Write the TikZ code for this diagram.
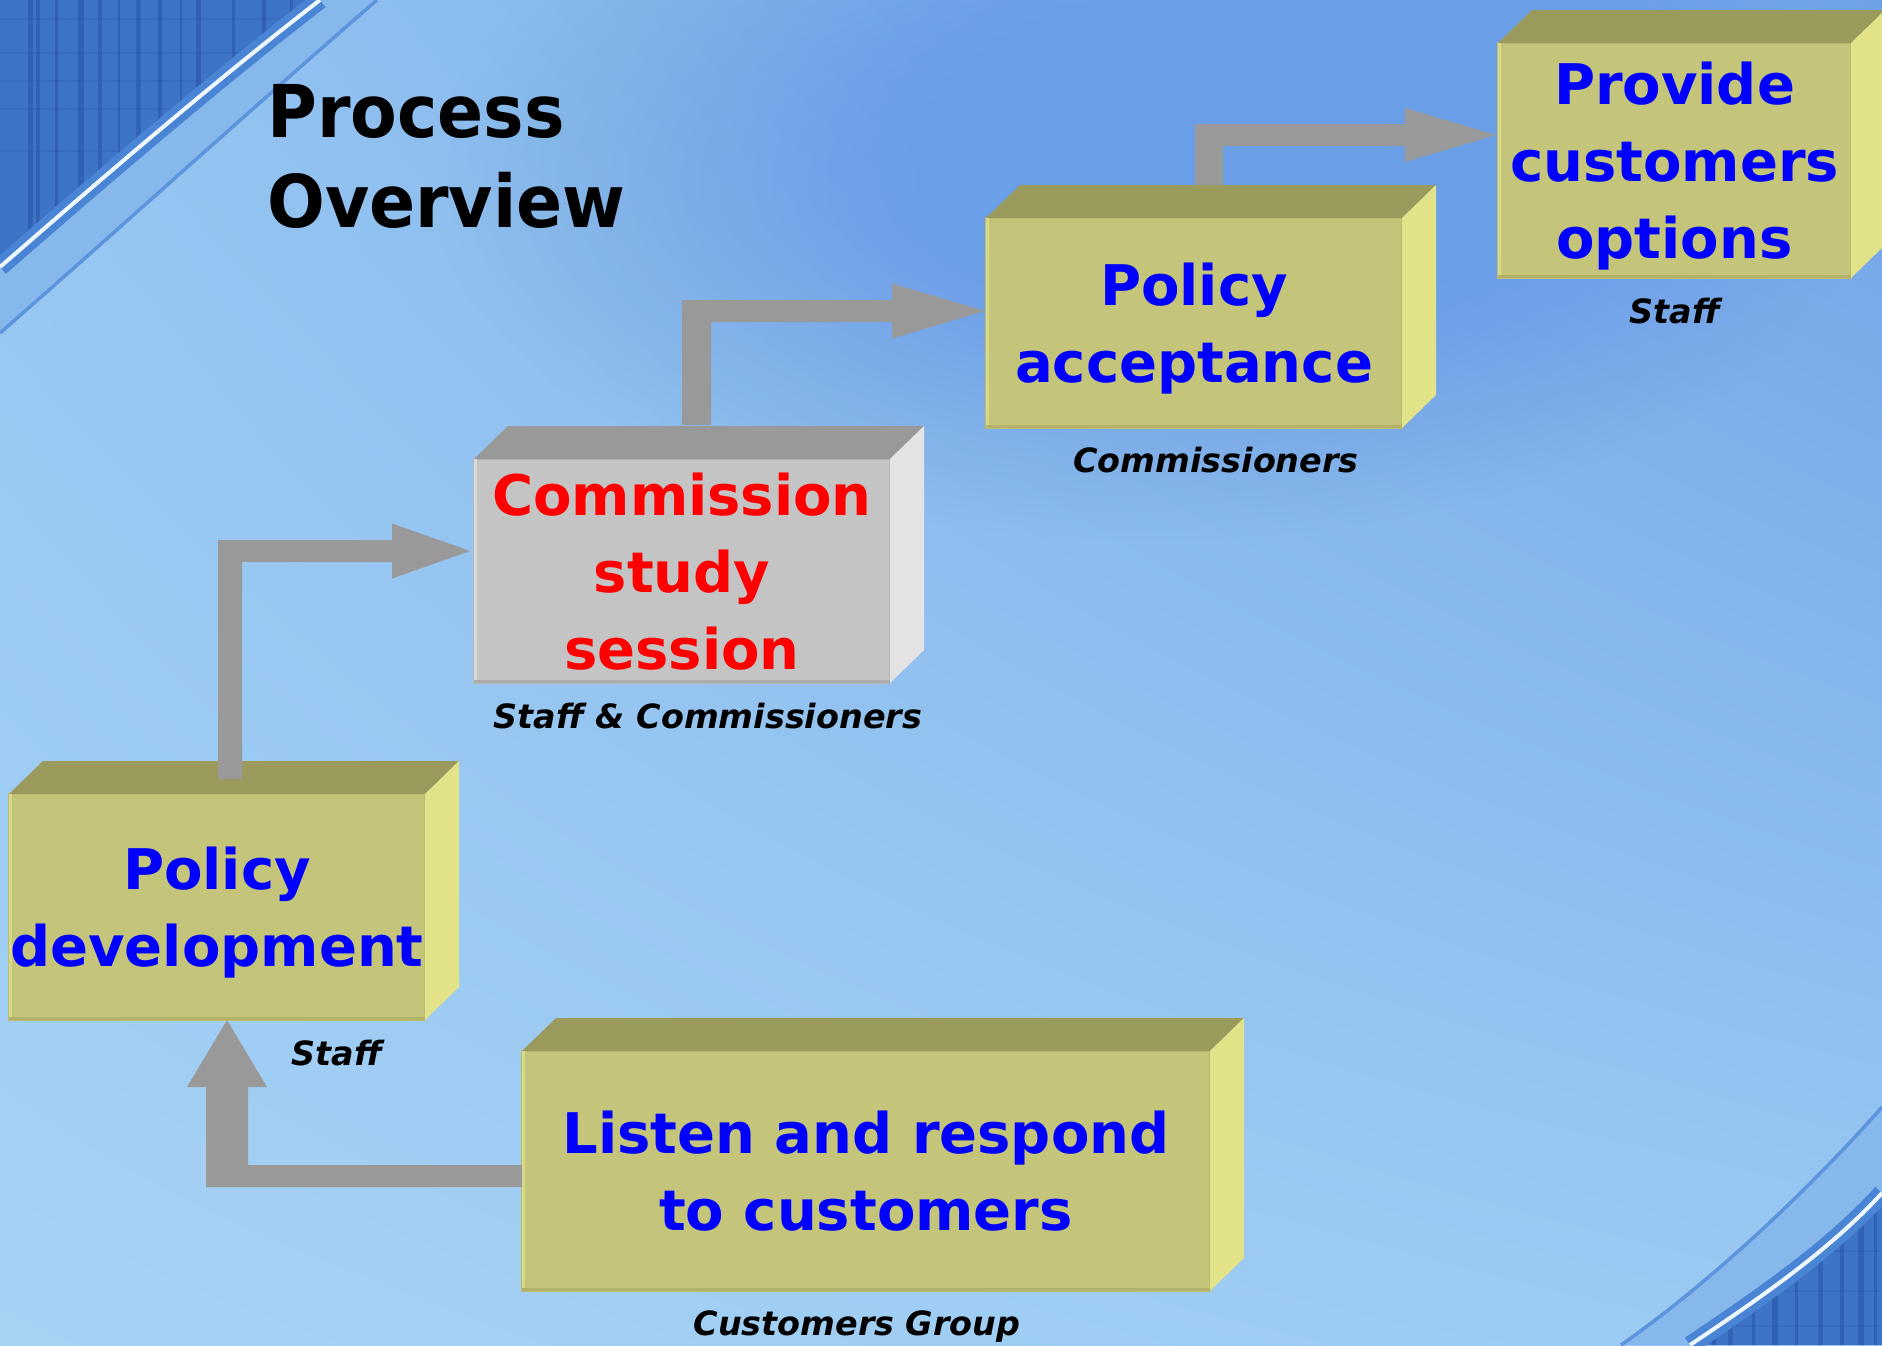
\documentclass[tikz,border=0pt]{standalone}
\usepackage{fontspec}
\setmainfont{DejaVu Sans}
\usetikzlibrary{calc,shadings}
\definecolor{bgUL}{HTML}{94C5F1}
\definecolor{bgUR}{HTML}{6FA1E7}
\definecolor{bgLL}{HTML}{A6D2F4}
\definecolor{bgLR}{HTML}{9ACAF2}
\definecolor{blobblue}{HTML}{6A9FE8}
\definecolor{darkblue}{HTML}{3D74C5}
\definecolor{stripeblue}{HTML}{2A55A6}
\definecolor{bandblue}{HTML}{86B8EC}
\definecolor{edgeblue}{HTML}{4A84D4}
\definecolor{outerblue}{HTML}{5E94DD}
\definecolor{whiteline}{HTML}{EEF6FF}
\definecolor{oliveF}{HTML}{C4C47A}
\definecolor{oliveT}{HTML}{999A5C}
\definecolor{oliveS}{HTML}{E2E288}
\definecolor{oliveE}{HTML}{BDBD72}
\definecolor{oliveL}{HTML}{D8D88A}
\definecolor{oliveD}{HTML}{B2B26A}
\definecolor{grayF}{HTML}{C4C4C4}
\definecolor{grayT}{HTML}{999999}
\definecolor{grayS}{HTML}{E3E3E3}
\definecolor{grayE}{HTML}{B8B8B8}
\definecolor{grayL}{HTML}{D8D8D8}
\definecolor{grayD}{HTML}{ABABAB}
\definecolor{arrowgray}{HTML}{999999}
\definecolor{txtblue}{HTML}{0000FF}
\definecolor{txtred}{HTML}{FF0000}
\newcommand\boxfont{\fontsize{56}{77}\selectfont\bfseries}
\newcommand\titlefont{\fontsize{68}{90}\selectfont\bfseries}
\newcommand\lblfont{\fontsize{33.4}{40}\selectfont\bfseries\itshape}
\tikzset{
  frontbox/.style={inner sep=0pt, outer sep=0pt, line width=1.5pt, align=center,
    font=\boxfont, text depth=0pt},
  olivebox/.style={frontbox, fill=oliveF, draw=oliveE, text=txtblue},
  graybox/.style={frontbox, fill=grayF, draw=grayE, text=txtred},
  lbl/.style={font=\lblfont, text=black, anchor=base, inner sep=0pt},
  titletext/.style={font=\titlefont, text=black, anchor=base west, inner sep=0pt},
  stripe/.style={stripeblue, opacity=0.55},
}
% 3D faces of a box: #1 node, #2 top colour, #3 side colour, #4 light edge, #5 dark edge
\newcommand\boxfaces[5]{%
  \fill[#2] (#1.north west) -- ++(34,-33) -- ($(#1.north east)+(34,-33)$) -- (#1.north east) -- cycle;
  \fill[#3] (#1.north east) -- ++(34,-33) -- ($(#1.south east)+(34,-33)$) -- (#1.south east) -- cycle;
  \draw[#4, line width=3pt] ($(#1.north west)+(1.5,0)$) -- ($(#1.south west)+(1.5,0)$);
  \draw[#5, line width=3pt] ($(#1.south west)+(0,-1.5)$) -- ($(#1.south east)+(0,-1.5)$);}
% bent arrow going up then right: #1 start, #2 tip, #3 half shaft width (vertical),
% #4 half shaft thickness (horizontal), #5 head length, #6 head half width
\newcommand\uprightarrow[6]{%
  \fill[arrowgray] let \p1=(#1), \p2=(#2) in
    (\x1-#3pt,\y1) -- (\x1-#3pt,\y2+#4pt) -- (\x2-#5pt,\y2+#4pt) -- (\x2-#5pt,\y2+#6pt)
    -- (\p2) -- (\x2-#5pt,\y2-#6pt) -- (\x2-#5pt,\y2-#4pt) -- (\x1+#3pt,\y2-#4pt)
    -- (\x1+#3pt,\y1) -- cycle;}
\begin{document}
\begin{tikzpicture}[x=1pt,y=-1pt]
\useasboundingbox (0,0) rectangle (1882,1345);
% ---------- background ----------
\shade[upper left=bgUL, upper right=bgUR, lower left=bgLL, lower right=bgLR] (0,0) rectangle (1882,1345);
\begin{scope}
  \clip (0,0) rectangle (1882,1345);
  \foreach \i in {1,...,40}
    \fill[blobblue, opacity=0.009] (1150,180) ellipse [x radius={\i*18pt}, y radius={\i*9pt}];
\end{scope}
% top-left corner decoration
\fill[bandblue] (0,0) -- (0,333) .. controls (120,228) and (250,110) .. (377,0) -- cycle;
\draw[outerblue, line width=3.5pt] (0,333) .. controls (120,228) and (250,110) .. (377,0);
\begin{scope}
  \clip (0,0) -- (0,267) .. controls (100,180) and (210,85) .. (320,0) -- cycle;
  \fill[darkblue] (0,0) rectangle (330,280);
  \foreach \x/\w in {28/5,36/4,55/3,78/6,98/4,118/2,136/5,158/4,180/2,196/5,232/3,262/4,290/3}
    \fill[stripe] (\x,0) rectangle ++(\w,280);
  \foreach \y in {18,52,80,108,150}
    \fill[stripe, opacity=0.25] (0,\y) rectangle ++(330,2);
\end{scope}
\draw[edgeblue, line width=18pt] (0,267) .. controls (100,180) and (210,85) .. (320,0);
\draw[whiteline, line width=4pt] (0,267) .. controls (100,180) and (210,85) .. (320,0);
% bottom-right corner decoration
\fill[bandblue] (1882,1345) -- (1621,1345) .. controls (1700,1290) and (1800,1200) .. (1882,1107) -- cycle;
\draw[outerblue, line width=3.5pt] (1621,1345) .. controls (1700,1290) and (1800,1200) .. (1882,1107);
\begin{scope}
  \clip (1882,1345) -- (1690,1345) .. controls (1760,1298) and (1830,1250) .. (1882,1193) -- cycle;
  \fill[darkblue] (1680,1180) rectangle (1882,1345);
  \foreach \x/\w in {1712/4,1728/5,1752/3,1772/6,1795/3,1818/5,1840/4,1858/6,1874/3}
    \fill[stripe] (\x,1180) rectangle ++(\w,170);
  \foreach \y in {1325,1290,1250}
    \fill[stripe, opacity=0.25] (1680,\y) rectangle ++(210,2);
\end{scope}
\draw[edgeblue, line width=18pt] (1690,1345) .. controls (1760,1298) and (1830,1250) .. (1882,1193);
\draw[whiteline, line width=4pt] (1690,1345) .. controls (1760,1298) and (1830,1250) .. (1882,1193);
% ---------- title ----------
\node[titletext] (t1) at (267,137) {\scalebox{1}[1.07]{Process}};
\node[titletext] (t2) at (267,227) {\scalebox{1}[1.07]{Overview}};
% ---------- boxes ----------
\node[olivebox, minimum width=416pt, minimum height=226pt] (b1) at (217,907) {Policy\\development};
\node[graybox,  minimum width=416pt, minimum height=224pt] (b2) at (682,571) {Commission\\study\\session};
\node[olivebox, minimum width=416pt, minimum height=210pt] (b3) at (1194,323) {Policy\\acceptance};
\node[olivebox, minimum width=353pt, minimum height=235pt] (b4) at (1674.5,160.5) {Provide\\customers\\options};
\node[olivebox, minimum width=688pt, minimum height=240pt] (b5) at (866,1171) {Listen and respond\\to customers};
\boxfaces{b1}{oliveT}{oliveS}{oliveL}{oliveD}
\boxfaces{b2}{grayT}{grayS}{grayL}{grayD}
\boxfaces{b3}{oliveT}{oliveS}{oliveL}{oliveD}
\boxfaces{b4}{oliveT}{oliveS}{oliveL}{oliveD}
\boxfaces{b5}{oliveT}{oliveS}{oliveL}{oliveD}
% ---------- labels ----------
\node[lbl] (l1) at ($(b1.south)+(120,45)$) {Staff};
\node[lbl] (l2) at ($(b2.south)+(26,45)$) {Staff \& Commissioners};
\node[lbl] (l3) at ($(b3.south)+(22,44)$) {Commissioners};
\node[lbl] (l4) at ($(b4.south)+(0.5,45)$) {Staff};
\node[lbl] (l5) at ($(b5.south)+(-9,44)$) {Customers Group};
% ---------- arrows ----------
\coordinate (sA) at ($(b1.north west)+(221,-15)$);
\coordinate (tA) at ($(b2.north west)+(-4,92)$);
\uprightarrow{sA}{tA}{12}{11}{78}{27.5}
\coordinate (sB) at ($(b2.north west)+(222.5,-34)$);
\coordinate (tB) at ($(b3.north west)+(-1,93)$);
\uprightarrow{sB}{tB}{14.5}{11}{93}{27.5}
\coordinate (sC) at ($(b3.north west)+(223,-33)$);
\coordinate (tC) at ($(b4.north west)+(-2,92)$);
\uprightarrow{sC}{tC}{14}{11}{91}{27}
\coordinate (sD) at ($(b5.west)+(0,5)$);
\coordinate (tD) at ($(b1.south)+(10,0)$);
\fill[arrowgray] let \p1=(sD), \p2=(tD) in
  (\x1,\y1+11pt) -- (\x2+21pt,\y1+11pt) -- (\x2+21pt,\y2-67pt) -- (\x2+40pt,\y2-67pt)
  -- (\p2) -- (\x2-40pt,\y2-67pt) -- (\x2-21pt,\y2-67pt) -- (\x2-21pt,\y1-11pt)
  -- (\x1,\y1-11pt) -- cycle;
\end{tikzpicture}
\end{document}
